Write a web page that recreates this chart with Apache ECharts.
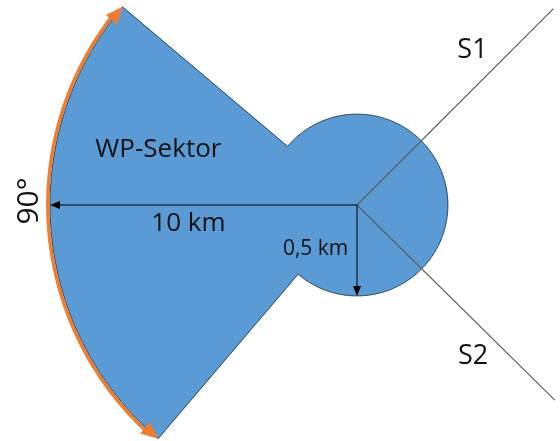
<!DOCTYPE html>
<html>
<head>
<meta charset="utf-8">
<script src="https://cdn.jsdelivr.net/npm/echarts@6/dist/echarts.min.js"></script>
<style>html,body{margin:0;padding:0;background:#fff}#c{width:560px;height:441px}</style>
</head>
<body>
<div id="c"></div>
<script>
// Diagram values (drawing units, schematic – not to scale)
const sectorRadius = 10;          // WP-Sektor radius (drawn)
const sectorAngles = [139.8, 229.6]; // degrees, 90° opening to the left
const circleRadius = 2.96;        // 0,5 km circle (drawn, schematic)
const rayAngles = [45, -44.6];    // S1, S2 directions
const rayLength = 9.05;
const labelTexts = ['WP-Sektor', '10 km', '0,5 km', '90°', 'S1', 'S2'];

// layout (axis window and label anchors)
const xRange = [-11.629, 6.612];
const yRange = [-7.687, 6.678];
const labelAnchors = [[-6.47, 1.80], [-5.49, -0.60], [-1.35, -1.43], [-10.68, 0.13], [3.76, 5.03], [3.78, -4.93]];
const labelSizes = [26, 26, 21, 30, 27, 27];

const chart = echarts.init(document.getElementById('c'), null, {renderer: 'canvas'});
const rad = d => d * Math.PI / 180;
const pt = (r, a) => [r * Math.cos(rad(a)), r * Math.sin(rad(a))];

function arrowHead(tip, dir, len, hw, color) {
  const n = Math.hypot(dir[0], dir[1]);
  const ux = dir[0] / n, uy = dir[1] / n;
  const bx = tip[0] - ux * len, by = tip[1] - uy * len;
  return {
    type: 'polygon',
    shape: {points: [tip, [bx - uy * hw, by + ux * hw], [bx + uy * hw, by - ux * hw]]},
    style: {fill: color}
  };
}

function renderItem(params, api) {
  const c = api.coord([0, 0]);
  const children = [];
  const [a1, a2] = sectorAngles;
  const pts = [];
  for (let a = a1; a <= a2 + 1e-9; a += 0.5) pts.push(api.coord(pt(sectorRadius, a)));
  pts.push(api.coord(pt(sectorRadius, a2)));
  for (let a = a2; a <= a1 + 360 + 1e-9; a += 1) pts.push(api.coord(pt(circleRadius, a)));
  pts.push(api.coord(pt(circleRadius, a1)));
  children.push({
    type: 'polygon', shape: {points: pts},
    style: {fill: '#5B9BD5', stroke: '#2b3f55', lineWidth: 1}
  });
  rayAngles.forEach(a => {
    const e = api.coord(pt(rayLength, a));
    children.push({
      type: 'line',
      shape: {x1: c[0], y1: c[1], x2: e[0], y2: e[1]},
      style: {stroke: '#5a5a5a', lineWidth: 1.1}
    });
  });
  const left = api.coord(pt(sectorRadius, 180));
  children.push({type: 'line', shape: {x1: c[0], y1: c[1], x2: left[0] + 8, y2: left[1]}, style: {stroke: '#000', lineWidth: 1}});
  children.push(arrowHead(left, [-1, 0], 10, 4, '#000'));
  const down = api.coord(pt(circleRadius, 270));
  children.push({type: 'line', shape: {x1: c[0], y1: c[1], x2: down[0], y2: down[1] - 8}, style: {stroke: '#000', lineWidth: 1}});
  children.push(arrowHead(down, [0, 1], 10, 4, '#000'));
  const rPx = Math.abs(api.coord([sectorRadius, 0])[0] - c[0]);
  const headLen = 17;
  const dA = headLen / rPx * 180 / Math.PI;
  const arcR = sectorRadius * 1.007;
  const arcPts = [];
  for (let a = a1 + dA * 0.8; a <= a2 - dA * 0.8; a += 0.5) arcPts.push(api.coord(pt(arcR, a)));
  children.push({type: 'polyline', shape: {points: arcPts}, style: {stroke: '#ED7D31', lineWidth: 3.5, fill: null}});
  const tipTop = api.coord(pt(sectorRadius, a1));
  const tipBot = api.coord(pt(sectorRadius, a2));
  const dTop = [Math.sin(rad(a1)), Math.cos(rad(a1))];
  const dBot = [-Math.sin(rad(a2)), -Math.cos(rad(a2))];
  children.push(arrowHead(tipTop, dTop, headLen, 7.5, '#ED7D31'));
  children.push(arrowHead(tipBot, dBot, headLen, 7.5, '#ED7D31'));
  labelTexts.forEach((t, i) => {
    const p = api.coord(labelAnchors[i]);
    children.push({
      type: 'text', x: p[0], y: p[1], rotation: i === 3 ? Math.PI / 2 : 0,
      style: {text: t, fill: '#111', font: labelSizes[i] + 'px "Open Sans", sans-serif', align: 'center', verticalAlign: 'middle'}
    });
  });
  return {type: 'group', children};
}

chart.setOption({
  animation: false,
  grid: {left: 0, right: 0, top: 0, bottom: 0},
  xAxis: {type: 'value', min: xRange[0], max: xRange[1], show: false},
  yAxis: {type: 'value', min: yRange[0], max: yRange[1], show: false},
  series: [{type: 'custom', renderItem, data: [[0, 0]], coordinateSystem: 'cartesian2d', silent: true}]
});
</script>
</body>
</html>
